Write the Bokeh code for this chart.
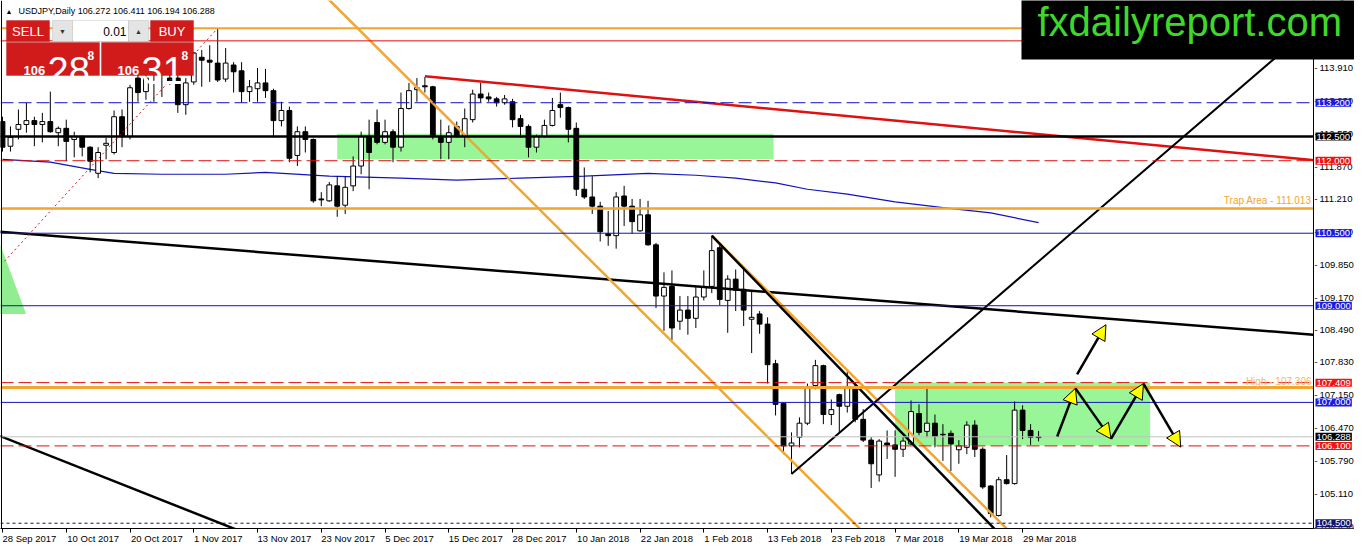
from bokeh.plotting import figure
from bokeh.models import (Range1d, FixedTicker, Span, Label, BoxAnnotation, Arrow,
                          NormalHead, ColumnDataSource, LinearAxis)
from bokeh.embed import file_html
from bokeh.resources import INLINE

# ---------------- data ----------------
bar_index = list(range(131))
opens = [112.81,112.30,112.65,112.75,112.83,112.75,112.81,112.58,112.67,112.44,
         112.50,112.28,111.74,112.32,112.17,112.91,112.50,113.71,113.43,113.88,
         114.19,113.71,113.71,113.16,113.63,114.14,114.08,114.02,113.69,113.98,
         113.86,113.43,113.49,113.61,113.45,112.83,113.04,112.11,112.60,112.44,
         111.21,111.17,111.48,111.08,111.48,111.89,112.50,112.79,112.38,112.60,
         112.28,113.08,113.47,113.55,113.53,112.50,112.38,112.71,112.50,112.85,
         113.38,113.32,113.28,113.20,113.22,112.87,112.71,112.28,112.50,112.73,
         113.16,113.10,112.67,111.41,111.25,111.06,110.49,110.45,111.27,111.06,
         110.55,110.88,110.26,109.20,109.40,108.68,108.91,108.74,109.18,109.40,
         110.20,109.11,109.55,109.34,108.72,108.83,108.62,107.80,106.98,106.10,
         106.28,106.57,107.35,107.76,106.75,107.16,106.92,107.33,106.65,106.22,
         105.50,106.16,106.12,106.03,106.14,106.77,106.40,106.57,106.34,106.36,
         106.02,106.07,106.53,106.03,105.27,104.66,105.40,105.32,106.84,106.42,
         106.272]
highs = [112.91,112.71,113.06,113.20,112.91,112.99,113.43,112.71,112.85,112.60,
         112.52,112.30,112.28,112.48,113.04,113.06,113.57,113.84,113.88,114.19,
         114.29,113.98,113.77,113.71,114.25,114.29,114.39,114.74,114.33,114.04,
         114.04,113.67,113.92,113.90,113.49,113.22,113.12,112.71,112.71,112.46,
         111.35,111.56,111.68,111.68,112.09,112.60,112.85,113.06,112.85,112.65,
         113.41,113.61,113.71,113.73,113.55,112.85,112.73,112.81,113.08,113.47,
         113.61,113.41,113.32,113.36,113.28,112.95,112.75,112.54,112.85,113.30,
         113.41,113.12,112.79,111.86,111.68,111.15,110.96,111.35,111.48,111.21,
         111.21,111.17,110.30,109.69,109.73,109.20,109.20,109.40,109.73,110.45,
         110.28,109.63,109.75,109.75,109.30,108.89,108.76,107.88,107.00,106.38,
         106.69,107.39,107.88,107.78,107.06,107.18,107.64,107.41,106.86,106.28,
         106.24,106.42,106.42,106.28,107.04,106.96,107.29,106.75,106.55,106.42,
         106.22,106.61,106.63,106.07,105.29,105.46,105.91,107.02,106.94,106.55,
         106.411]
lows = [112.19,112.19,112.44,112.58,112.30,112.38,112.58,112.30,111.99,112.07,
        112.09,111.76,111.64,112.03,112.13,112.28,112.44,113.22,113.26,113.22,
        113.32,113.57,112.99,112.95,113.57,113.53,113.63,113.63,113.63,113.41,
        113.20,113.22,113.22,113.30,112.48,112.71,111.97,111.89,112.17,111.13,
        111.06,111.15,110.84,110.90,111.37,111.72,111.41,112.34,112.34,111.97,
        112.19,113.06,113.22,113.41,112.44,112.03,112.03,112.48,112.28,112.79,
        113.20,113.22,113.12,113.16,112.69,112.48,112.07,112.17,112.48,112.71,
        112.89,112.38,111.27,111.21,110.90,110.33,110.24,110.18,110.65,110.49,
        110.53,110.24,108.95,108.48,108.29,108.50,108.40,108.54,109.11,109.26,
        109.01,108.44,108.89,108.58,108.02,108.42,107.39,106.73,105.93,105.52,
        106.07,106.53,107.27,106.55,106.53,106.38,106.79,106.59,106.18,105.23,
        105.36,105.83,105.46,105.87,106.12,106.32,106.28,106.07,105.79,105.58,
        105.73,105.93,105.87,105.21,104.62,104.64,105.30,105.30,106.24,106.12,
        106.194]
closes = [112.28,112.48,112.75,112.83,112.75,112.81,112.60,112.67,112.40,112.50,
          112.28,111.99,112.17,112.36,112.91,112.50,113.51,113.41,113.71,114.08,
          113.98,113.63,113.16,113.61,114.23,114.08,114.04,113.67,114.02,113.84,
          113.43,113.53,113.61,113.45,112.83,113.04,112.05,112.60,112.44,111.17,
          111.19,111.50,111.06,111.45,111.89,112.50,112.17,112.38,112.60,112.28,
          113.08,113.45,113.51,113.53,112.50,112.38,112.58,112.50,112.87,113.38,
          113.30,113.28,113.20,113.28,112.85,112.71,112.28,112.50,112.73,113.04,
          113.10,112.65,111.41,111.25,111.06,110.53,110.45,111.25,111.06,110.74,
          110.88,110.26,109.20,109.38,108.54,108.91,108.74,109.18,109.38,110.14,
          109.13,109.55,109.32,108.91,108.76,108.62,107.78,106.96,106.10,106.16,
          106.57,107.29,107.76,106.75,106.85,106.92,107.33,106.65,106.22,105.73,
          106.20,106.12,106.03,106.20,106.81,106.38,106.57,106.30,106.33,106.14,
          106.10,106.53,106.03,105.25,104.70,105.40,105.32,106.84,106.42,106.28,
          106.288]

date_tick_pos = [0, 8, 16, 24, 32, 40, 48, 56, 64, 72, 80, 88, 96, 104, 112, 120, 128]
date_tick_labels = ["28 Sep 2017", "10 Oct 2017", "20 Oct 2017", "1 Nov 2017", "13 Nov 2017",
                    "23 Nov 2017", "5 Dec 2017", "15 Dec 2017", "28 Dec 2017", "10 Jan 2018",
                    "22 Jan 2018", "1 Feb 2018", "13 Feb 2018", "23 Feb 2018", "7 Mar 2018",
                    "19 Mar 2018", "29 Mar 2018"]
price_ticks = [104.43, 105.11, 105.79, 106.47, 107.15, 107.83, 108.49, 109.17, 109.85,
               110.53, 111.21, 111.87, 112.55, 113.23, 113.91]

ma_idx = [0, 6, 11, 14, 20, 28, 33, 41, 50, 57, 65, 73, 81, 87, 92, 97, 101, 106, 112, 118, 124, 130]
ma_val = [112.03, 111.97, 111.82, 111.74, 111.72, 111.72, 111.76, 111.68, 111.64, 111.60, 111.64,
          111.68, 111.74, 111.70, 111.64, 111.54, 111.41, 111.31, 111.15, 111.03, 110.92, 110.72]

level_prices = [114.74, 114.48, 113.2, 112.5, 112.0, 111.013, 110.5, 109.0,
                107.409, 107.306, 107.0, 106.288, 106.1, 104.5]
tag_prices = [113.2, 112.5, 112.0, 110.5, 109.0, 107.409, 107.0, 106.288, 106.1, 104.5]

trend_x = [[53, 166], [-1, 166], [-1, 33], [40, 112], [89, 128], [89, 128], [99, 170]]
trend_y = [[113.75, 111.99], [110.54, 108.38], [106.35, 104.13], [115.49, 103.66],
           [110.45, 104.06], [110.45, 103.78], [105.52, 115.59]]
dotted_x = [0.25, 27]
dotted_y = [109.92, 114.74]
tri_x = [-1, -1, 2.96]
tri_y = [110.58, 108.83, 108.83]
zone_left = [42, 112]
zone_right = [96.75, 144]
zone_bottom = [112.03, 106.11]
zone_top = [112.56, 107.41]
zig_x = [132.34, 134.63, 139.09, 143.16, 147.84]
zig_y = [106.295, 107.29, 106.245, 107.389, 106.075]
up_x = [134.84, 138.46]
up_y = [107.58, 108.607]
trap_level = 111.013
high_level = 107.306

# ---------------- styles ----------------
BLUE = "#1212c0"
RED = "#dc1010"
ORANGE = "#f2a530"
FONT = "Liberation Sans"

level_style = {
    114.74: dict(line_color=ORANGE, line_width=2),
    114.48: dict(line_color=RED, line_width=1),
    113.2: dict(line_color=BLUE, line_width=1, line_dash="13 5"),
    112.5: dict(line_color="black", line_width=2.5),
    112.0: dict(line_color=RED, line_width=1, line_dash="13 5"),
    111.013: dict(line_color=ORANGE, line_width=2.5),
    110.5: dict(line_color=BLUE, line_width=1),
    109.0: dict(line_color=BLUE, line_width=1),
    107.409: dict(line_color=RED, line_width=1, line_dash="13 5"),
    107.306: dict(line_color=ORANGE, line_width=3),
    107.0: dict(line_color=BLUE, line_width=1),
    106.288: dict(line_color="#c0c0c0", line_width=1),
    106.1: dict(line_color=RED, line_width=1, line_dash="13 5"),
    104.5: dict(line_color="#101060", line_width=1, line_dash="3 3"),
}
tag_bg = {113.2: "#1a1ae0", 112.5: "black", 112.0: "#ee1414", 110.5: "#1a1ae0",
          109.0: "#1a1ae0", 107.409: "#ee1414", 107.0: "#1a1ae0", 106.288: "black",
          106.1: "#ee1414", 104.5: "#12126e"}
trend_color = ["#e01010", "black", "black", ORANGE, ORANGE, "black", "black"]
trend_width = [2.5, 2.5, 2.5, 2.5, 2.5, 2.5, 2]

# ---------------- figure ----------------
W, H = 1354, 546
BORDER_B = 18
FRAME_BOTTOM = H - BORDER_B          # canvas y of frame bottom
PX_PER_BAR = 1312 / 164.625          # chart area ends at canvas x 1312 (price scale line)
X0 = -0.125 - 1 / PX_PER_BAR
SCALE_X = 164.5                      # bar position of the price-scale line


def sx(px):
    return px


def sy(py):
    return FRAME_BOTTOM - py


p = figure(width=W, height=H, output_backend="svg", toolbar_location=None,
           x_range=Range1d(X0, X0 + W / PX_PER_BAR), y_range=Range1d(104.391, 115.315),
           y_axis_location=None, min_border_left=0, min_border_top=0,
           min_border_right=0, min_border_bottom=BORDER_B,
           background_fill_color="white", border_fill_color="white",
           outline_line_color=None)
p.grid.visible = False

# zones (behind candles)
p.quad(left=zone_left, right=zone_right, bottom=zone_bottom, top=zone_top,
       fill_color="#98f598", line_color=None)
p.patch(tri_x, tri_y, fill_color="#90ee90", line_color=None)

# moving average
p.line(ma_idx, ma_val, line_color=BLUE, line_width=1.2)

# candles
bull = [c >= o for o, c in zip(opens, closes)]
src = ColumnDataSource(dict(
    x=bar_index, h=highs, l=lows,
    top=[max(o, c) for o, c in zip(opens, closes)],
    bottom=[min(o, c) for o, c in zip(opens, closes)],
    fill=["white" if b else "black" for b in bull]))
p.segment(x0="x", y0="l", x1="x", y1="h", source=src, line_color="black", line_width=1)
p.vbar(x="x", width=0.6, top="top", bottom="bottom", source=src,
       fill_color="fill", line_color="black", line_width=1)

# horizontal levels
for lv in level_prices:
    p.add_layout(Span(location=lv, dimension="width", **level_style[lv]))

# trend lines
p.multi_line(trend_x, trend_y, line_color=trend_color, line_width=trend_width)
p.line(dotted_x, dotted_y, line_color=RED, line_width=1, line_dash="2 3")

# arrows
for i in range(len(zig_x) - 1):
    p.add_layout(Arrow(end=NormalHead(size=15, fill_color="#ffff00", line_color="black", line_width=1),
                       x_start=zig_x[i], y_start=zig_y[i], x_end=zig_x[i + 1], y_end=zig_y[i + 1],
                       line_color="black", line_width=2.5))
p.add_layout(Arrow(end=NormalHead(size=15, fill_color="#ffff00", line_color="black", line_width=1),
                   x_start=up_x[0], y_start=up_y[0], x_end=up_x[1], y_end=up_y[1],
                   line_color="black", line_width=2.5))

# line texts
p.add_layout(Label(x=SCALE_X, x_offset=-2, y=trap_level, y_offset=2,
                   text=f"Trap Area - {trap_level:.3f}", text_align="right",
                   text_baseline="bottom", text_color=ORANGE, text_font_size="10px",
                   text_font=FONT))
p.add_layout(Label(x=SCALE_X, x_offset=-2, y=high_level, y_offset=1,
                   text=f"High - {high_level:.3f}", text_align="right",
                   text_baseline="bottom", text_color="#f6b860", text_font_size="10px",
                   text_font=FONT))

# price-scale strip on the right: blank it, then draw its line, ticks and values
p.add_layout(BoxAnnotation(left=SCALE_X, fill_color="white", fill_alpha=1, line_color=None,
                           level="annotation"))
p.add_layout(Span(location=SCALE_X, dimension="height", line_color="black", line_width=1))
p.add_layout(Span(location=-0.125, dimension="height", line_color="black", line_width=1))
for t in price_ticks:
    p.add_layout(Label(x=SCALE_X, x_offset=1, y=t, text="-", text_baseline="middle",
                       text_color="black", text_font_size="9px", text_font=FONT))
    p.add_layout(Label(x=SCALE_X, x_offset=6, y=t, text=f"{t:.3f}", text_baseline="middle",
                       text_color="black", text_font_size="9.5px", text_font=FONT))

# price tags (drawn over the scale values)
for tp in tag_prices:
    p.add_layout(Label(x=SCALE_X, x_offset=2, y=tp, text=f"{tp:.3f}",
                       text_baseline="middle", text_color="white", text_font_size="9.5px",
                       text_font=FONT, background_fill_color=tag_bg[tp], padding=1,
                       level="overlay"))

# bottom axes: tick marks on the first, left-aligned date texts on a second one
tick_axis = p.xaxis[0]
tick_axis.ticker = FixedTicker(ticks=date_tick_pos)
tick_axis.major_label_overrides = {t: "" for t in date_tick_pos}
tick_axis.major_label_standoff = 0
tick_axis.axis_line_color = "black"
tick_axis.major_tick_line_color = "black"
tick_axis.major_tick_out = 4
tick_axis.major_tick_in = 0
tick_axis.minor_tick_line_color = None
label_pos = [t + len(s) * 4.9 / 2 / PX_PER_BAR for t, s in zip(date_tick_pos, date_tick_labels)]
date_axis = LinearAxis(ticker=FixedTicker(ticks=label_pos),
                       major_label_overrides={lp: s for lp, s in zip(label_pos, date_tick_labels)},
                       axis_line_color=None, major_tick_line_color=None, minor_tick_line_color=None,
                       major_tick_out=0, major_tick_in=0, major_label_standoff=0,
                       major_label_text_font=FONT, major_label_text_font_size="9.5px",
                       major_label_text_color="black")
p.add_layout(date_axis, "below")

# header
p.add_layout(Label(x=sx(5), y=sy(14), x_units="screen", y_units="screen", text="\u25b2",
                   text_font_size="7px", text_color="black", text_font=FONT))
p.add_layout(Label(x=sx(18), y=sy(15), x_units="screen", y_units="screen",
                   text=f"USDJPY,Daily  {opens[-1]:.3f} {highs[-1]:.3f} {lows[-1]:.3f} {closes[-1]:.3f}",
                   text_font_size="9px", text_color="black", text_font=FONT))


def box(l, r, t, b, fill, line):
    p.add_layout(BoxAnnotation(left=sx(l), right=sx(r), top=sy(t), bottom=sy(b),
                               left_units="screen", right_units="screen",
                               top_units="screen", bottom_units="screen",
                               fill_color=fill, fill_alpha=1, line_color=line, line_width=1,
                               level="overlay"))


def txt(x, y, s, size, color="white", align="left", baseline="alphabetic", style="normal"):
    p.add_layout(Label(x=sx(x), y=sy(y), x_units="screen", y_units="screen", text=s,
                       text_font_size=size, text_color=color, text_align=align,
                       text_baseline=baseline, text_font=FONT, text_font_style=style,
                       level="overlay"))


box(6, 49, 20, 41, "#d11a1a", "#a00000")
box(52, 72, 20, 41, "#e4e4e4", "#a0a0a0")
box(72, 128, 20, 41, "white", "#a0a0a0")
box(128, 148, 20, 41, "#e4e4e4", "#a0a0a0")
box(150, 193, 20, 41, "#d11a1a", "#a00000")
box(6, 99, 42, 75, "#d11a1a", "#a00000")
box(101, 193, 42, 75, "#d11a1a", "#a00000")
txt(27.5, 31, "SELL", "13px", align="center", baseline="middle")
txt(171.5, 31, "BUY", "13px", align="center", baseline="middle")
txt(62, 31, "\u25bc", "7px", color="#333333", align="center", baseline="middle")
txt(138, 31, "\u25b2", "7px", color="#333333", align="center", baseline="middle")
txt(126, 31, "0.01", "12px", color="black", align="right", baseline="middle")
bid, ask = "106 28 8", "106 31 8"
for x0, q in ((23, bid), (117, ask)):
    a, b_, c = q.split()
    txt(x0, 70, a, "13px", style="bold")
    txt(x0 + 24, 70, b_, "38px")
    txt(x0 + 64, 55, c, "12px", style="bold")

# logo (label background forms the black plate; anchor = plate bottom-left)
p.add_layout(Label(x=sx(1021), y=sy(59), x_units="screen", y_units="screen",
                   text="fxdailyreport.com", text_font_size="40px", text_color="#3fd82a",
                   text_font=FONT, background_fill_color="black", padding=16, level="overlay"))

open("out.html", "w").write(file_html(p, INLINE))
